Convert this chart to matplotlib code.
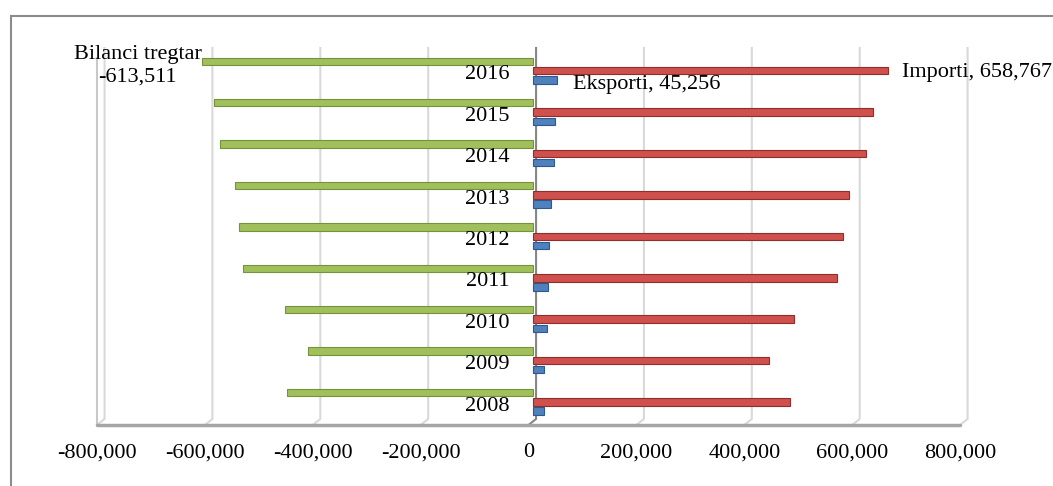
import matplotlib.pyplot as plt
import matplotlib.transforms as mtransforms
from matplotlib.patches import Rectangle

years = ["2008", "2009", "2010", "2011", "2012", "2013", "2014", "2015", "2016"]
importi = [477000, 438000, 484000, 564000, 576000, 586000, 619000, 632000, 658767]
eksporti = [22000, 21000, 26000, 28000, 31000, 35000, 39000, 42000, 45256]
bilanci = [-455000, -417000, -458000, -536000, -545000, -551000, -580000, -590000, -613511]
ticks = [-800000, -600000, -400000, -200000, 0, 200000, 400000, 600000, 800000]

plt.rcParams['font.family'] = ['Liberation Serif', 'DejaVu Serif']
fs = 16

W, H = 1053, 486
fig = plt.figure(figsize=(W / 100, H / 100), dpi=100)

# outer frame
fig.patches.append(Rectangle((11 / W, -0.05), 1.1, (H - 16) / H + 0.05,
                             transform=fig.transFigure, fill=False,
                             edgecolor='#8c8c8c', lw=1.5))

ax = fig.add_axes([97 / W, (H - 425) / H, 873 / W, 377 / H])
ax.set_xlim(-800000, 818500)
ymin, ymax = -0.556, 8.55
ax.set_ylim(ymin, ymax)
for s in ax.spines.values():
    s.set_visible(False)

# back wall gridlines, bending onto the floor
off = 14000
yback = -0.41
for v in ticks:
    if v == 0:
        continue
    ax.plot([v + off, v + off, v], [ymax, yback, ymin], color='#d9d9d9', lw=1.5,
            clip_on=False, zorder=0)
ax.plot([-800000, -800000], [8.3, ymin], color='#c8c8c8', lw=1.5, clip_on=False, zorder=0)
ax.plot([off, off, 0], [ymax, yback, ymin], color='#868686', lw=1.5, clip_on=False, zorder=1)
# floor
ax.plot([-800000, 800000], [ymin, ymin], color='#a6a6a6', lw=2.5, clip_on=False,
        solid_capstyle='round', zorder=1)

pos = list(range(len(years)))
shift = mtransforms.offset_copy(ax.transData, fig=fig, x=4, y=0, units='dots')
bh = 0.18
ax.barh([p + 0.23 for p in pos], bilanci, height=bh, color='#a0c05c',
        edgecolor='#76933c', lw=0.8, transform=shift, zorder=3)
ax.barh(pos, importi, height=bh, color='#d0504d', edgecolor='#8e2f2c', lw=0.8,
        transform=shift, zorder=3)
ax.barh([p - 0.22 for p in pos], eksporti, height=bh, color='#4f81bd',
        edgecolor='#2c5a8f', lw=0.8, transform=shift, zorder=3)

lab = mtransforms.offset_copy(ax.transData, fig=fig, x=-19, y=0, units='dots')
for p, yr in zip(pos, years):
    ax.text(0, p - 0.1, yr, transform=lab, ha='right', va='center', fontsize=fs, zorder=4)

ax.text(-725000, 8.12, "Bilanci tregtar\n" + "-613,511", ha='center', va='center',
        fontsize=fs, linespacing=1.3)
ax.text(692000, len(years) - 1 - 0.05, "Importi, 658,767", ha='left', va='center',
        fontsize=fs)
ax.text(82000, len(years) - 1 - 0.32, "Eksporti, 45,256", ha='left', va='center',
        fontsize=fs)

ax.set_yticks([])
ax.set_xticks(ticks)
ax.set_xticklabels([f"{t:,}" for t in ticks], fontsize=fs)
ax.tick_params(axis='x', length=0, pad=13)

fig.savefig("out.png", dpi=100)
